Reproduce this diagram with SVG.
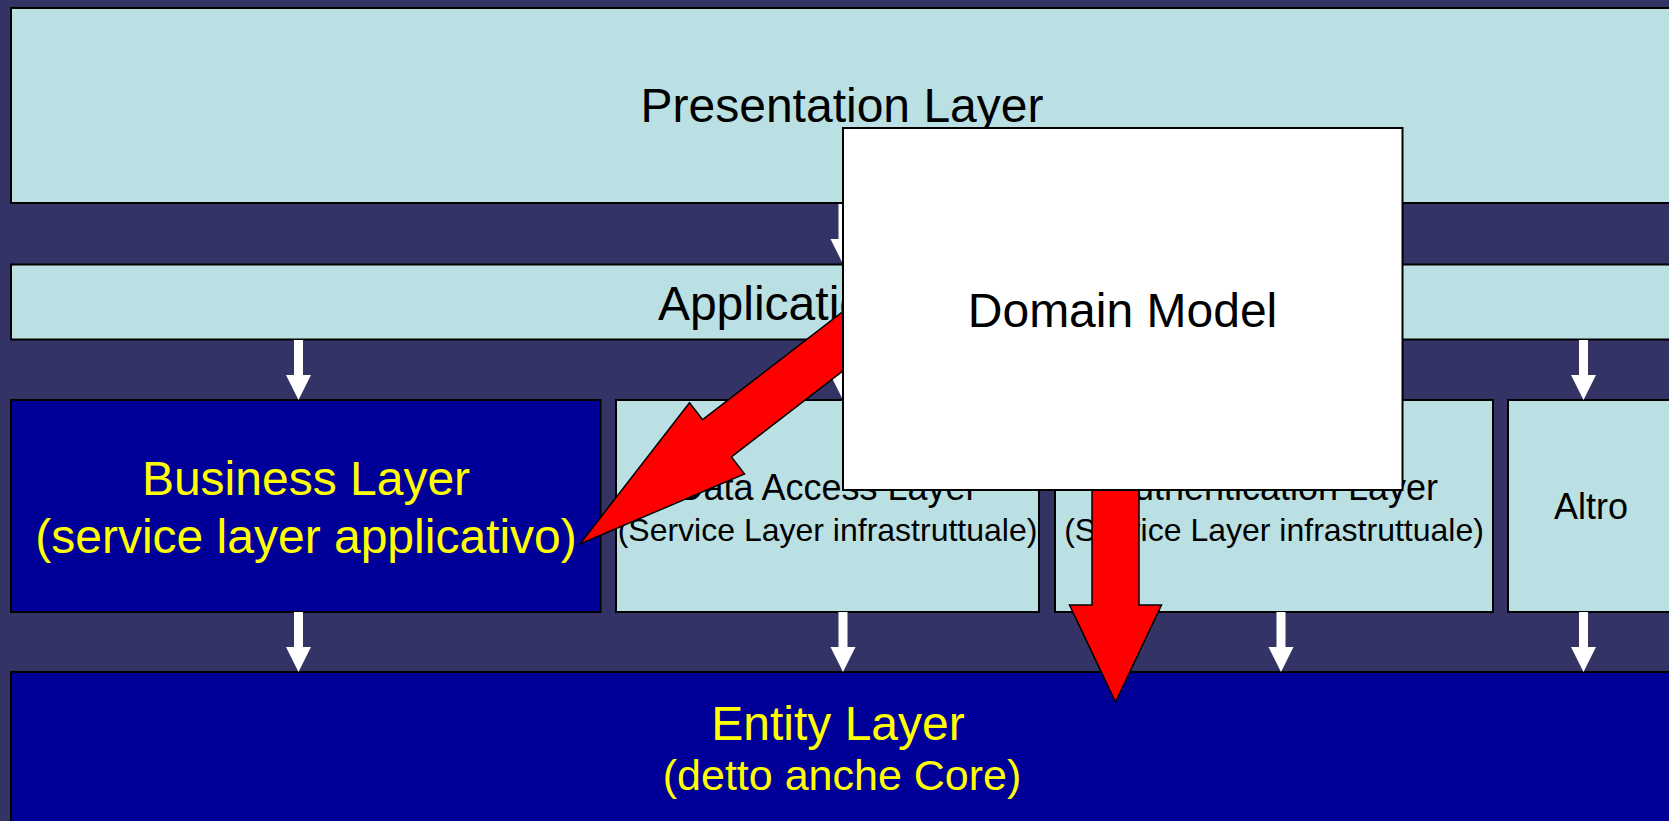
<svg xmlns="http://www.w3.org/2000/svg" width="1669" height="821" viewBox="0 0 1669 821">
  <style>
    .light { fill: #BAE0E3; stroke: #000000; stroke-width: 2; }
    .dark { fill: #000099; stroke: #000000; stroke-width: 2; }
    .domain { fill: #FFFFFF; stroke: #000000; stroke-width: 2; }
    text { font-family: "Liberation Sans", Arial, Helvetica, sans-serif; text-anchor: middle; }
    .t48 { font-size: 48px; fill: #000000; }
    .y48 { font-size: 48px; fill: #FFFF00; }
    .y43 { font-size: 43px; fill: #FFFF00; }
    .t36 { font-size: 36px; fill: #000000; }
    .t32 { font-size: 32px; fill: #000000; }
    .warrow { fill: #FFFFFF; stroke: none; }
    .rarrow { fill: #FF0000; stroke: #000000; stroke-width: 1.5; stroke-linejoin: miter; }
  </style>
  <defs>
    <path id="wa" d="M-4.5,0 H4.5 V35 H12.5 L0,60 L-12.5,35 H-4.5 Z"/>
  </defs>

  <rect x="0" y="0" width="1669" height="821" fill="#333366"/>

  <g id="presentation-layer">
    <rect class="light" x="11" y="8" width="1680" height="195"/>
    <text class="t48" x="842" y="122">Presentation Layer</text>
  </g>

  <g id="application-layer">
    <rect class="light" x="11" y="264.5" width="1680" height="75"/>
    <text class="t48" x="842" y="320">Application Layer</text>
  </g>

  <g id="business-layer">
    <rect class="dark" x="11" y="400" width="589.5" height="212"/>
    <text class="y48" x="306" y="495">Business Layer</text>
    <text class="y48" x="306" y="553">(service layer applicativo)</text>
  </g>

  <g id="data-access-layer">
    <rect class="light" x="616" y="400" width="423" height="212"/>
    <text class="t36" x="827.5" y="500">Data Access Layer</text>
    <text class="t32" x="827.5" y="541">(Service Layer infrastruttuale)</text>
  </g>

  <g id="authentication-layer">
    <rect class="light" x="1055" y="400" width="438" height="212"/>
    <text class="t36" x="1274" y="500">Authentication Layer</text>
    <text class="t32" x="1274" y="541">(Service Layer infrastruttuale)</text>
  </g>

  <g id="altro">
    <rect class="light" x="1508" y="400" width="180" height="212"/>
    <text class="t36" x="1591" y="519">Altro</text>
  </g>

  <g id="entity-layer">
    <rect class="dark" x="11" y="672" width="1680" height="160"/>
    <text class="y48" x="838" y="740">Entity Layer</text>
    <text class="y43" x="842" y="790">(detto anche Core)</text>
  </g>

  <g id="connectors">
    <use href="#wa" class="warrow" x="843" y="204"/>
    <use href="#wa" class="warrow" x="298.5" y="340"/>
    <use href="#wa" class="warrow" x="843" y="340"/>
    <use href="#wa" class="warrow" x="1583.5" y="340"/>
    <use href="#wa" class="warrow" x="298.5" y="612"/>
    <use href="#wa" class="warrow" x="843" y="612"/>
    <use href="#wa" class="warrow" x="1281" y="612"/>
    <use href="#wa" class="warrow" x="1583.5" y="612"/>
    <polygon class="rarrow" points="580,544 689.5,402.7 702.6,419.7 898.3,268.8 927,306 731.4,456.9 744.5,473.9"/>
    <polygon class="rarrow" points="1092,300 1139,300 1139,605 1161.5,605 1115.5,702 1069.5,605 1092,605"/>
  </g>

  <g id="domain-model">
    <rect class="domain" x="843" y="128" width="559.5" height="362"/>
    <text class="t48" x="1122.5" y="327">Domain Model</text>
  </g>
</svg>
